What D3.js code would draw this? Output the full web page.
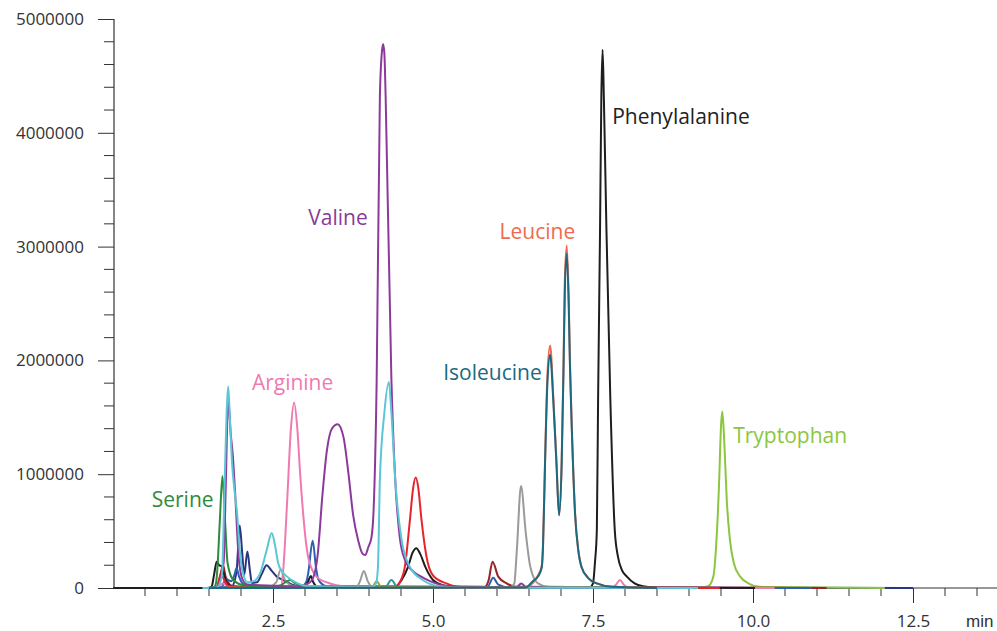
<!DOCTYPE html>
<html>
<head>
<meta charset="utf-8">
<script src="https://cdn.jsdelivr.net/npm/d3@7"></script>
<style>
  html, body { margin: 0; padding: 0; background: #ffffff; }
  svg { display: block; font-family: "Open Sans", "Noto Sans", sans-serif; }
</style>
</head>
<body>
<svg id="chart" width="997" height="631"></svg>
<script>
// ---------- DATA (time in min, intensity in counts) ----------
const xMajorTicks = [2.5, 5.0, 7.5, 10.0, 12.5];
const xTickLabels = ["2.5", "5.0", "7.5", "10.0", "12.5"];
const yMajorTicks = [0, 1000000, 2000000, 3000000, 4000000, 5000000];
const yTickLabels = ["0", "1000000", "2000000", "3000000", "4000000", "5000000"];
const xUnitLabel = "min";

const navyTrace = [[1.5,0],[1.85,10000],[1.93,140000],[1.98,550000],[2.02,300000],[2.05,115000],[2.10,320000],[2.14,150000],[2.17,45000],[2.25,50000],[2.33,130000],[2.40,200000],[2.48,150000],[2.56,100000],[2.66,70000],[2.8,30000],[3.0,10000],[5.0,4000],[12.5,0]];
const tryptophanTrace = [[1.5,0],[9.2,5000],[9.30,15000],[9.38,100000],[9.42,334000],[9.47,920000],[9.50,1420000],[9.52,1550000],[9.55,1300000],[9.59,775000],[9.64,420000],[9.70,220000],[9.80,100000],[9.95,35000],[10.1,10000],[12.06,0]];
const maroonTrace = [[1.5,0],[1.63,10000],[1.68,120000],[1.72,200000],[1.76,100000],[1.85,20000],[2.0,5000],[5.8,5000],[5.87,70000],[5.93,230000],[6.02,100000],[6.15,40000],[6.3,10000],[11.15,0]];
const blueTrace = [[1.5,0],[1.7,10000],[1.76,80000],[1.85,60000],[1.90,120000],[1.93,175000],[1.97,100000],[2.05,30000],[2.5,10000],[2.95,15000],[3.02,55000],[3.05,130000],[3.12,415000],[3.17,187000],[3.20,90000],[3.23,55000],[3.35,15000],[5.85,10000],[5.94,90000],[6.02,30000],[6.2,5000],[10.92,0]];
const arginineTrace = [[1.5,0],[1.65,20000],[1.72,40000],[1.8,20000],[2.4,10000],[2.55,15000],[2.63,25000],[2.66,160000],[2.72,750000],[2.78,1400000],[2.83,1630000],[2.88,1400000],[2.92,1040000],[2.97,660000],[3.05,270000],[3.18,100000],[3.39,40000],[3.6,15000],[4.0,5000],[7.8,3000],[7.86,30000],[7.92,70000],[7.98,30000],[8.05,5000],[10.34,0]];
const phenylalanineTrace = [[0,0],[1.50,0],[1.54,10000],[1.58,120000],[1.62,230000],[1.66,200000],[1.70,190000],[1.74,110000],[1.78,40000],[1.83,20000],[1.95,10000],[2.5,5000],[3.0,8000],[3.05,60000],[3.09,105000],[3.13,50000],[3.2,10000],[4.4,10000],[4.51,70000],[4.61,185000],[4.68,310000],[4.74,350000],[4.80,300000],[4.88,185000],[5.0,70000],[5.15,25000],[5.4,5000],[7.45,5000],[7.50,40000],[7.53,220000],[7.56,510000],[7.58,1680000],[7.61,3150000],[7.63,4300000],[7.65,4730000],[7.67,4300000],[7.71,3150000],[7.77,1680000],[7.84,510000],[7.89,275000],[7.95,160000],[8.03,100000],[8.15,40000],[8.28,15000],[8.5,3000],[10.03,0]];
const redTrace = [[1.5,0],[1.62,10000],[1.66,80000],[1.69,130000],[1.73,80000],[1.8,20000],[2.0,5000],[4.4,5000],[4.48,50000],[4.56,185000],[4.64,600000],[4.69,880000],[4.73,970000],[4.77,880000],[4.82,600000],[4.90,270000],[5.0,110000],[5.21,40000],[5.4,10000],[6.6,5000],[9.48,0]];
const cyanTrace = [[1.4,0],[1.62,5000],[1.70,100000],[1.75,1040000],[1.78,1600000],[1.80,1770000],[1.83,1450000],[1.86,1100000],[1.90,850000],[1.94,650000],[1.98,330000],[2.02,160000],[2.1,50000],[2.2,60000],[2.30,130000],[2.40,330000],[2.48,483000],[2.53,380000],[2.58,220000],[2.65,140000],[2.72,100000],[2.87,45000],[3.0,20000],[3.5,10000],[4.05,10000],[4.11,40000],[4.14,187000],[4.17,950000],[4.24,1540000],[4.31,1810000],[4.35,1540000],[4.41,950000],[4.51,420000],[4.64,185000],[4.84,70000],[5.1,15000],[5.5,3000],[9.14,0]];
const grayTrace = [[1.5,0],[2.4,5000],[2.55,50000],[2.62,160000],[2.68,80000],[2.8,20000],[3.0,5000],[3.8,5000],[3.86,60000],[3.92,150000],[3.98,60000],[4.05,10000],[6.2,5000],[6.27,40000],[6.31,334000],[6.375,896000],[6.45,483000],[6.52,187000],[6.64,40000],[6.8,10000],[8.8,0]];
const oliveTrace = [[1.5,0],[2.7,5000],[2.9,20000],[3.4,10000],[4.05,10000],[4.12,60000],[4.19,10000],[8.6,0]];
const tealSmallTrace = [[1.5,0],[4.25,5000],[4.35,70000],[4.45,5000],[8.7,0]];
const serineTrace = [[1.4,0],[1.58,10000],[1.61,45000],[1.63,160000],[1.67,600000],[1.71,985000],[1.75,600000],[1.79,220000],[1.88,70000],[2.04,25000],[2.3,15000],[2.6,20000],[2.72,60000],[2.77,70000],[2.85,40000],[3.0,15000],[3.5,5000],[8.5,0]];
const valineTrace = [[1.4,0],[1.62,5000],[1.68,80000],[1.73,230000],[1.76,850000],[1.80,1650000],[1.84,1350000],[1.87,1180000],[1.91,820000],[1.96,300000],[2.02,80000],[2.1,30000],[2.5,20000],[2.9,15000],[3.05,40000],[3.12,80000],[3.2,300000],[3.27,800000],[3.34,1200000],[3.42,1400000],[3.51,1440000],[3.60,1330000],[3.68,1000000],[3.75,650000],[3.83,420000],[3.90,300000],[3.94,290000],[3.99,360000],[4.04,450000],[4.07,660000],[4.12,1830000],[4.17,4320000],[4.20,4700000],[4.22,4780000],[4.24,4700000],[4.26,4320000],[4.35,1830000],[4.41,950000],[4.48,450000],[4.56,250000],[4.7,140000],[4.85,90000],[5.0,50000],[5.2,20000],[5.7,5000],[6.3,5000],[6.38,40000],[6.45,10000],[6.8,3000],[8.8,0]];
const leucineTrace = [[1.5,0],[6.45,5000],[6.56,45000],[6.64,110000],[6.70,200000],[6.72,400000],[6.75,1100000],[6.79,1900000],[6.83,2130000],[6.88,1680000],[6.93,1100000],[6.97,640000],[7.01,1100000],[7.04,1980000],[7.06,2700000],[7.09,3010000],[7.12,2560000],[7.14,1980000],[7.17,1390000],[7.22,656000],[7.27,334000],[7.32,187000],[7.43,85000],[7.56,40000],[7.8,10000],[8.5,0]];
const isoleucineTrace = [[1.5,0],[6.45,5000],[6.56,60000],[6.64,100000],[6.70,180000],[6.72,380000],[6.75,1080000],[6.79,1830000],[6.83,2050000],[6.88,1640000],[6.93,1080000],[6.97,640000],[7.01,1080000],[7.04,1940000],[7.06,2620000],[7.09,2940000],[7.12,2500000],[7.14,1950000],[7.17,1380000],[7.22,650000],[7.27,330000],[7.32,185000],[7.43,85000],[7.56,40000],[7.8,10000],[8.5,0]];

// draw order: first = bottom
const traces = [
  { name: "navy", values: navyTrace, color: "#2b3683" },
  { name: "Tryptophan", values: tryptophanTrace, color: "#8cc63f" },
  { name: "maroon", values: maroonTrace, color: "#9b2226" },
  { name: "blue", values: blueTrace, color: "#2d5fb3" },
  { name: "Arginine", values: arginineTrace, color: "#f07ab0" },
  { name: "Phenylalanine", values: phenylalanineTrace, color: "#1e1e1e" },
  { name: "red", values: redTrace, color: "#e8232b" },
  { name: "gray", values: grayTrace, color: "#9a9a9a" },
  { name: "olive", values: oliveTrace, color: "#a3a032" },
  { name: "teal", values: tealSmallTrace, color: "#2a9a9c" },
  { name: "Serine", values: serineTrace, color: "#2e8b3d" },
  { name: "Valine", values: valineTrace, color: "#8b3a9b" },
  { name: "cyan", values: cyanTrace, color: "#5bc6d6" },
  { name: "Leucine", values: leucineTrace, color: "#f26a50" },
  { name: "Isoleucine", values: isoleucineTrace, color: "#1b6a80" }
];

const labelNames = ["Phenylalanine", "Valine", "Leucine", "Isoleucine", "Arginine", "Serine", "Tryptophan"];
const labelTimes = [7.80, 3.98, 6.04, 5.16, 2.17, 0.605, 9.69];
const labelValues = [4077000, 3190000, 3070000, 1828000, 1740000, 714000, 1272000];
const labelAnchors = ["start", "end", "start", "start", "start", "start", "start"];
const labelColors = ["#222222", "#8a3a98", "#f06a50", "#1b6a80", "#f07ab0", "#2e8b3c", "#8cc63f"];

// ---------- LAYOUT ----------
const svg = d3.select("#chart");
const x0px = 113, pxPerMin = 64;
const xMax = 13.83;
const x = d3.scaleLinear().domain([0, xMax]).range([x0px, x0px + xMax * pxPerMin]);
const y = d3.scaleLinear().domain([0, 5000000]).range([588, 19]);
const axisColor = "#333333";

// traces
const line = d3.line().x(d => x(d[0])).y(d => y(d[1])).curve(d3.curveMonotoneX);
svg.append("g").selectAll("path").data(traces).join("path")
  .attr("d", d => line(d.values))
  .attr("fill", "none")
  .attr("stroke", d => d.color)
  .attr("stroke-width", 2)
  .attr("stroke-linejoin", "round");

// y axis
const yMinor = d3.range(0, 5000001, 200000).filter(v => v % 1000000 !== 0);
const yAxisMajor = d3.axisLeft(y).tickValues(yMajorTicks).tickSize(16).tickPadding(14)
  .tickFormat((d, i) => yTickLabels[i]);
const gy = svg.append("g").attr("transform", `translate(${x0px + 1},0)`).call(yAxisMajor);
gy.append("g").selectAll("line").data(yMinor).join("line")
  .attr("x1", -10).attr("x2", 0).attr("y1", d => y(d)).attr("y2", d => y(d))
  .attr("stroke", axisColor);

// x axis
const xMinor = d3.range(0.5, xMax, 0.5).filter(v => Math.abs(v / 2.5 - Math.round(v / 2.5)) > 1e-6);
const xAxisMajor = d3.axisBottom(x).tickValues(xMajorTicks).tickSize(15).tickPadding(12)
  .tickFormat((d, i) => xTickLabels[i]);
const gx = svg.insert("g", ":first-child").attr("transform", `translate(0,${y(0)})`).call(xAxisMajor);
gx.append("g").selectAll("line").data(xMinor).join("line")
  .attr("x1", d => x(d)).attr("x2", d => x(d)).attr("y1", 0).attr("y2", 8)
  .attr("stroke", axisColor);
gx.append("text").attr("x", x(13.33)).attr("y", 27).attr("dy", "0.71em").attr("fill", axisColor)
  .attr("font-size", 17).attr("text-anchor", "start").text(xUnitLabel);

[gx, gy].forEach(g => {
  g.select(".domain").attr("stroke", axisColor).attr("stroke-width", 1.2);
  g.selectAll(".tick line").attr("stroke", axisColor);
  g.selectAll(".tick text").attr("fill", axisColor).attr("font-size", 17)
    .attr("font-family", "'Open Sans', 'Noto Sans', sans-serif");
});
gy.select(".domain").attr("d", `M0,${y(0)}V${y(5000000)}`);
gx.select(".domain").attr("d", `M${x(0)},0H${x(xMax)}`);

// peak labels
svg.append("g").selectAll("text").data(labelNames).join("text")
  .attr("x", (d, i) => x(labelTimes[i]))
  .attr("y", (d, i) => y(labelValues[i]))
  .attr("text-anchor", (d, i) => labelAnchors[i])
  .attr("fill", (d, i) => labelColors[i])
  .attr("font-size", 21)
  .text(d => d);
</script>
</body>
</html>
